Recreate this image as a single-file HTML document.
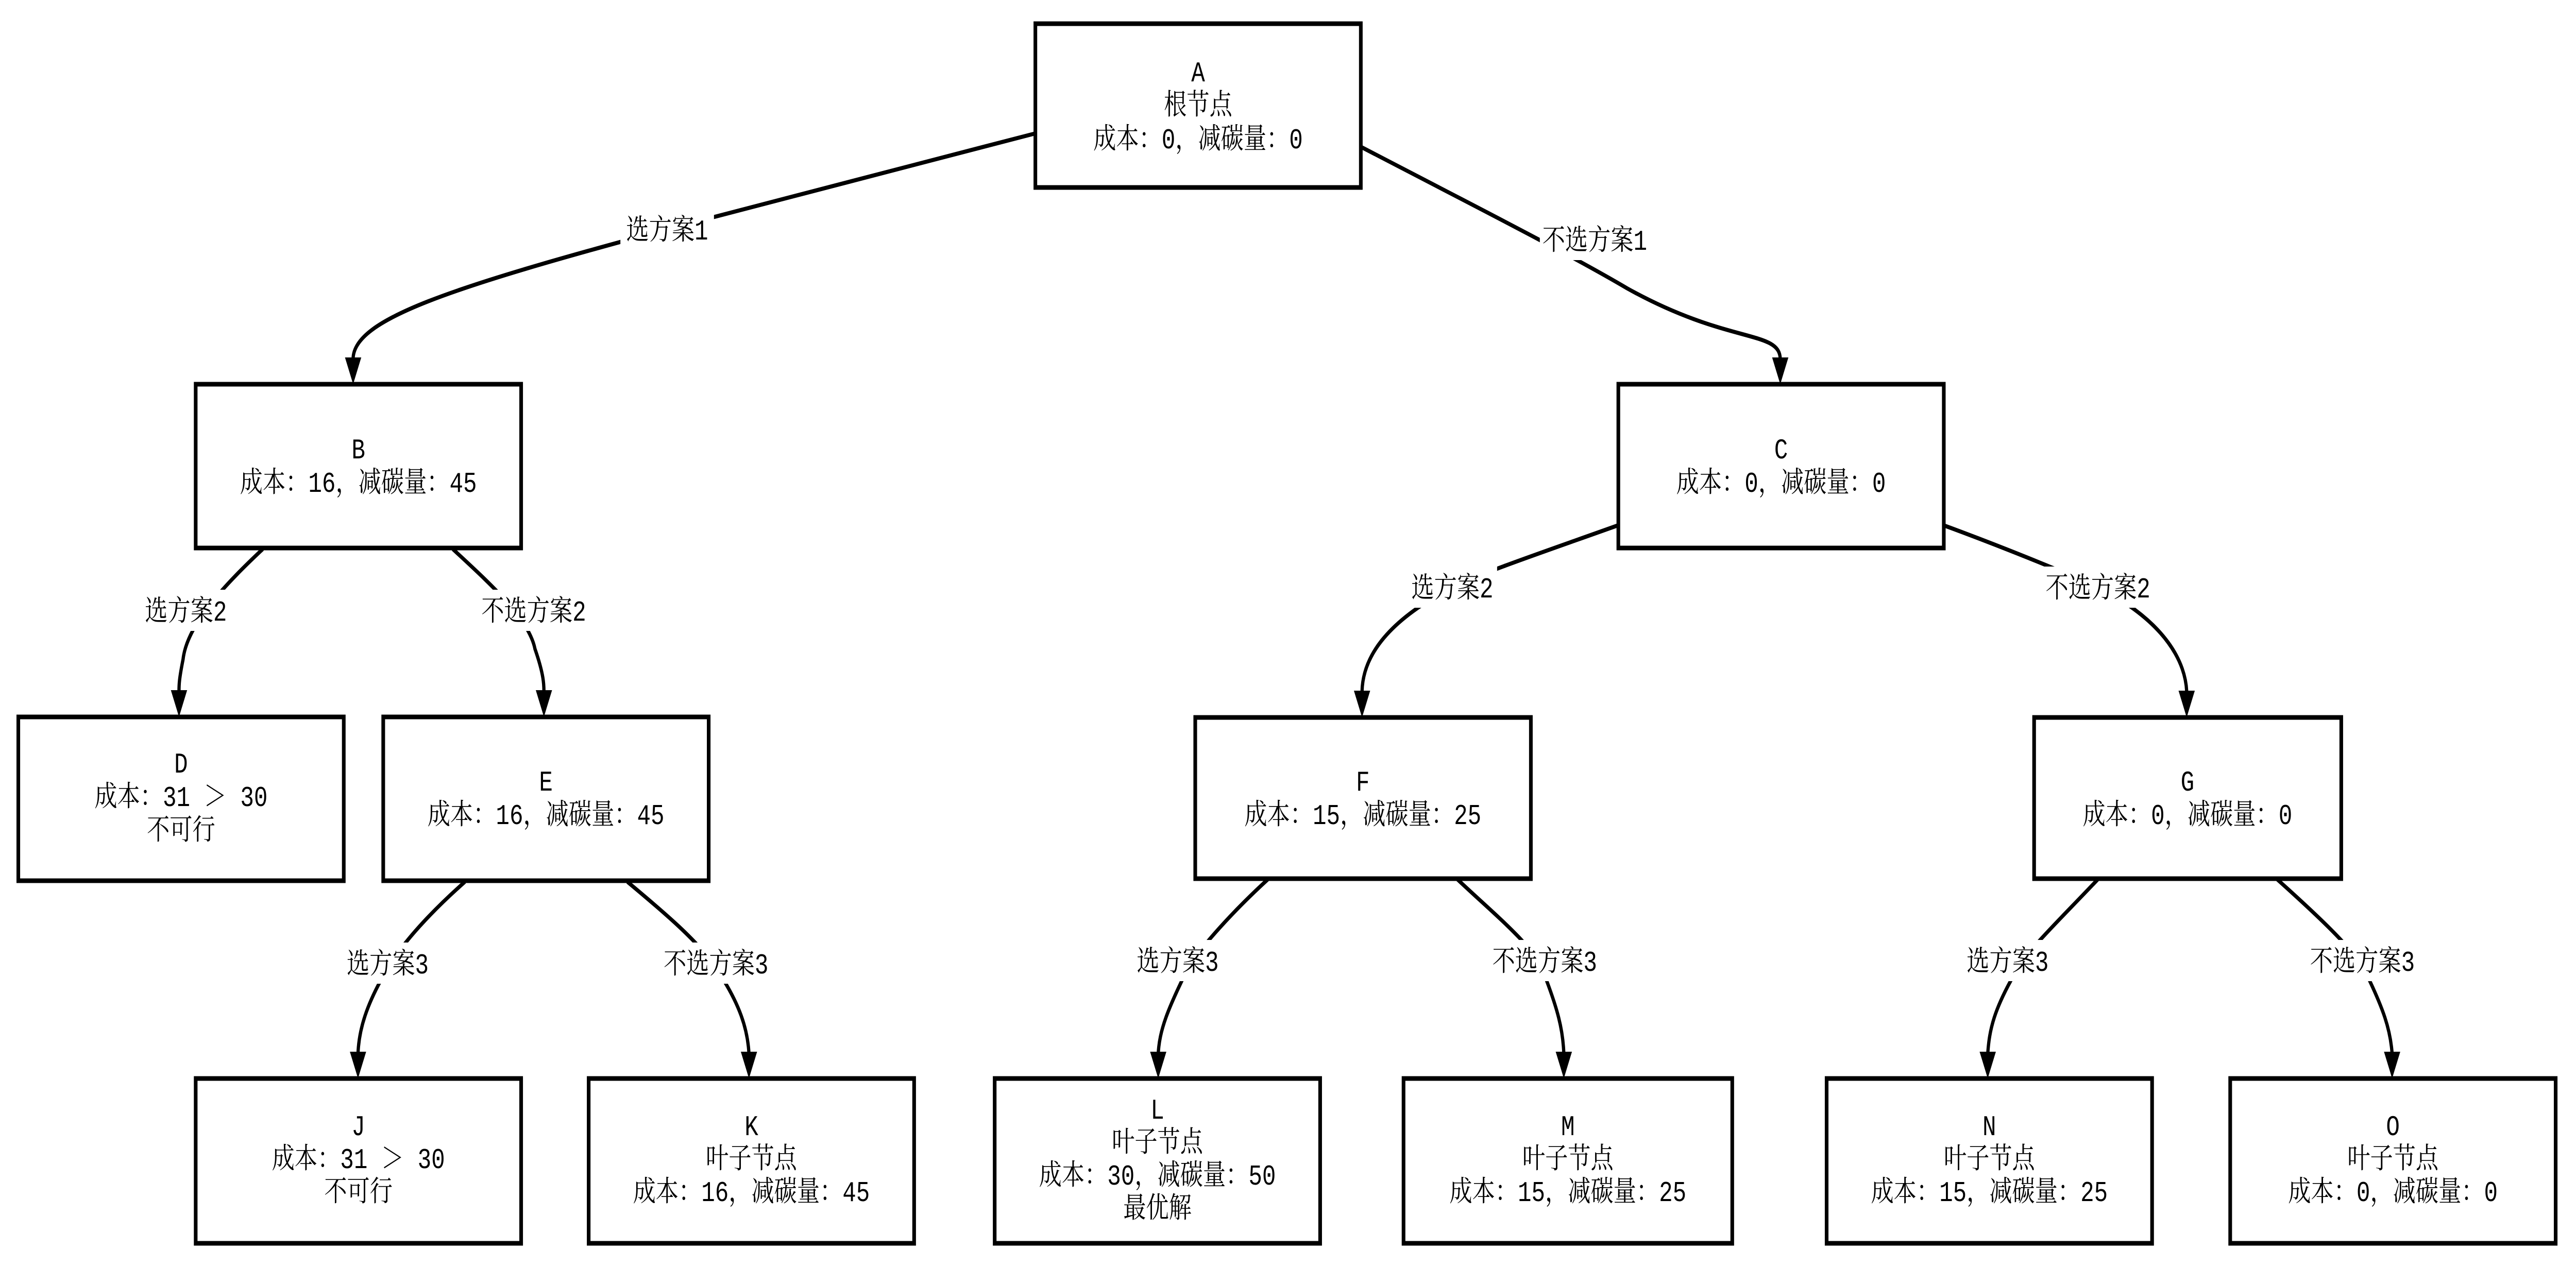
<!DOCTYPE html>
<html><head><meta charset="utf-8"><style>
html,body{margin:0;padding:0;background:#fff;overflow:hidden;width:100%;height:100%;}
svg{display:block;width:100vw;height:100vh;}
text{font-family:"Liberation Mono","Noto Serif CJK SC","Noto Sans CJK SC",monospace;font-size:56px;fill:#000;}
</style></head><body>
<svg viewBox="0 0 6332 2460" preserveAspectRatio="none" xmlns="http://www.w3.org/2000/svg">
<g fill="#fff" stroke="#000" stroke-width="9">
<rect x="2545" y="46" width="800" height="318"/>
<rect x="481" y="746" width="800" height="318"/>
<rect x="3978" y="746" width="800" height="318"/>
<rect x="45" y="1392" width="800" height="318"/>
<rect x="942" y="1392" width="800" height="318"/>
<rect x="2938" y="1393" width="825" height="313"/>
<rect x="5000" y="1393" width="755" height="313"/>
<rect x="481" y="2094" width="800" height="320"/>
<rect x="1447" y="2094" width="800" height="320"/>
<rect x="2445" y="2094" width="800" height="320"/>
<rect x="3450" y="2094" width="808" height="320"/>
<rect x="4490" y="2094" width="800" height="320"/>
<rect x="5482" y="2094" width="800" height="320"/>
</g>
<g fill="none" stroke="#000" stroke-width="8">
<path d="M2545,259 C2200,330 1800,410 1640,445 C1100,560 870,620 868,696"/>
<path d="M3345,285 C3600,390 3850,490 4000,560 C4250,670 4376,640 4376,698"/>
<path d="M646,1066 C560,1130 460,1210 450,1280 C440,1320 440,1330 440,1342"/>
<path d="M1113,1066 C1200,1130 1300,1200 1315,1260 C1337,1310 1337,1330 1337,1342"/>
<path d="M3977,1020 C3800,1070 3650,1110 3570,1140 C3400,1210 3350,1280 3348,1342"/>
<path d="M4778,1020 C4950,1070 5100,1120 5157,1140 C5330,1210 5372,1290 5375,1342"/>
<path d="M1143,1712 C1060,1770 990,1830 953,1880 C900,1950 882,2000 880,2046"/>
<path d="M1542,1712 C1630,1770 1720,1830 1760,1880 C1820,1950 1838,2000 1841,2046"/>
<path d="M3117,1707 C3030,1770 2950,1840 2920,1880 C2870,1960 2850,2000 2847,2046"/>
<path d="M3582,1707 C3680,1780 3760,1830 3790,1880 C3830,1960 3842,2000 3844,2046"/>
<path d="M5157,1707 C5070,1780 4990,1840 4960,1880 C4900,1960 4890,2000 4886,2046"/>
<path d="M5597,1707 C5700,1780 5780,1840 5810,1880 C5860,1960 5876,2000 5880,2046"/>
</g>
<g fill="#000">
<polygon points="868,746 848,694 888,694"/>
<polygon points="4376,746 4356,694 4396,694"/>
<polygon points="440,1392 420,1340 460,1340"/>
<polygon points="1337,1392 1317,1340 1357,1340"/>
<polygon points="3348,1393 3328,1341 3368,1341"/>
<polygon points="5375,1393 5355,1341 5395,1341"/>
<polygon points="880,2094 860,2042 900,2042"/>
<polygon points="1841,2094 1821,2042 1861,2042"/>
<polygon points="2847,2094 2827,2042 2867,2042"/>
<polygon points="3844,2094 3824,2042 3864,2042"/>
<polygon points="4886,2094 4866,2042 4906,2042"/>
<polygon points="5880,2094 5860,2042 5900,2042"/>
</g>
<g fill="#fff">
<rect x="1525" y="405" width="230" height="80"/>
<rect x="3785" y="425" width="270" height="80"/>
<rect x="350" y="1145" width="215" height="80"/>
<rect x="1175" y="1145" width="275" height="80"/>
<rect x="3460" y="1100" width="220" height="80"/>
<rect x="5020" y="1100" width="275" height="80"/>
<rect x="840" y="1830" width="225" height="80"/>
<rect x="1622" y="1830" width="275" height="80"/>
<rect x="2785" y="1825" width="220" height="80"/>
<rect x="3660" y="1825" width="275" height="80"/>
<rect x="4825" y="1825" width="220" height="80"/>
<rect x="5670" y="1825" width="275" height="80"/>
</g>
<g text-anchor="middle">
<text x="1640" y="465">选方案1</text>
<text x="3920" y="485">不选方案1</text>
<text x="457" y="1205">选方案2</text>
<text x="1312" y="1205">不选方案2</text>
<text x="3570" y="1160">选方案2</text>
<text x="5157" y="1160">不选方案2</text>
<text x="953" y="1890">选方案3</text>
<text x="1760" y="1890">不选方案3</text>
<text x="2895" y="1885">选方案3</text>
<text x="3797" y="1885">不选方案3</text>
<text x="4935" y="1885">选方案3</text>
<text x="5807" y="1885">不选方案3</text>

<text x="2945" y="158">A</text>
<text x="2945" y="222">根节点</text>
<text x="2945" y="288">成本：0，减碳量：0</text>

<text x="881" y="890">B</text>
<text x="881" y="955">成本：16，减碳量：45</text>
<text x="4378" y="890">C</text>
<text x="4378" y="955">成本：0，减碳量：0</text>

<text x="445" y="1500">D</text>
<text x="445" y="1565">成本：31 ＞ 30</text>
<text x="445" y="1630">不可行</text>
<text x="1342" y="1535">E</text>
<text x="1342" y="1600">成本：16，减碳量：45</text>
<text x="3350" y="1535">F</text>
<text x="3350" y="1600">成本：15，减碳量：25</text>
<text x="5377" y="1535">G</text>
<text x="5377" y="1600">成本：0，减碳量：0</text>

<text x="881" y="2204">J</text>
<text x="881" y="2268">成本：31 ＞ 30</text>
<text x="881" y="2332">不可行</text>
<text x="1847" y="2204">K</text>
<text x="1847" y="2268">叶子节点</text>
<text x="1847" y="2332">成本：16，减碳量：45</text>
<text x="2845" y="2172">L</text>
<text x="2845" y="2236">叶子节点</text>
<text x="2845" y="2300">成本：30，减碳量：50</text>
<text x="2845" y="2364">最优解</text>
<text x="3854" y="2204">M</text>
<text x="3854" y="2268">叶子节点</text>
<text x="3854" y="2332">成本：15，减碳量：25</text>
<text x="4890" y="2204">N</text>
<text x="4890" y="2268">叶子节点</text>
<text x="4890" y="2332">成本：15，减碳量：25</text>
<text x="5882" y="2204">O</text>
<text x="5882" y="2268">叶子节点</text>
<text x="5882" y="2332">成本：0，减碳量：0</text>
</g>
</svg>
</body></html>
